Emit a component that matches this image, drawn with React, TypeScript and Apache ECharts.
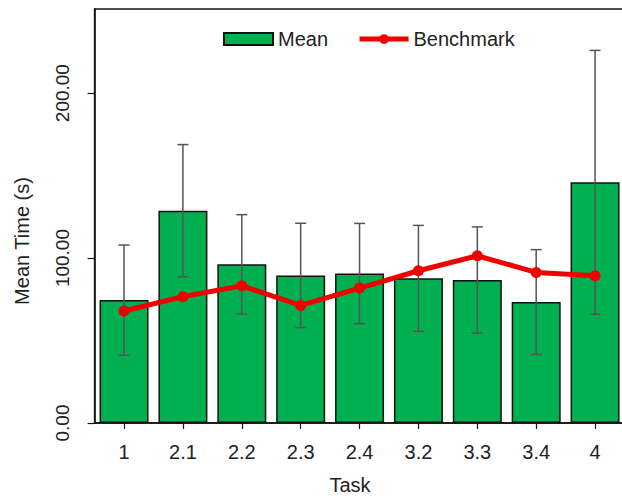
import React, { useEffect, useRef } from "react";
import * as echarts from "echarts";

const categories = ["1", "2.1", "2.2", "2.3", "2.4", "3.2", "3.3", "3.4", "4"];
const meanValues = [74.5, 128.7, 96.2, 89.5, 90.6, 87.7, 86.7, 73.3, 145.9];
const errorValues = [33.4, 40.1, 30.1, 31.6, 30.4, 32.1, 32.2, 31.8, 80.0];
const benchmarkValues = [67.9, 76.6, 83.2, 71.3, 81.8, 92.3, 101.4, 91.3, 89.3];
const yTicks = [0, 100, 200];

const FONT = "'Liberation Sans', Arial, Helvetica, sans-serif";

export default function App() {
  const ref = useRef<HTMLDivElement>(null);

  useEffect(() => {
    if (!ref.current) return;
    const chart = echarts.init(ref.current, undefined, { renderer: "svg" });

    const errorData = categories.map((_, i) => [
      i,
      meanValues[i] - errorValues[i],
      meanValues[i] + errorValues[i],
    ]);

    chart.setOption({
      animation: false,
      backgroundColor: "#ffffff",
      textStyle: { fontFamily: FONT },
      grid: {
        left: 94.6,
        right: -2.5,
        top: 9,
        bottom: 75,
        show: true,
        borderColor: "#111",
        borderWidth: 1.5,
        containLabel: false,
        outerBoundsMode: "none",
      },
      legend: {
        left: 218,
        top: 24,
        itemWidth: 49,
        itemHeight: 12,
        itemGap: 29,
        textStyle: { fontSize: 20, color: "#222", fontFamily: FONT },
        data: [
          { name: "Mean", icon: "rect" },
          { name: "Benchmark", lineStyle: { width: 5, color: "#F00000" } },
        ],
      },
      xAxis: {
        type: "category",
        data: categories,
        axisLine: { show: true, lineStyle: { color: "#111", width: 1.5 } },
        axisTick: { show: true, alignWithLabel: true, length: 6, lineStyle: { color: "#111", width: 1.2 } },
        axisLabel: { fontSize: 20, color: "#222", margin: 19, fontFamily: FONT },
        splitLine: { show: false },
      },
      yAxis: {
        type: "value",
        min: 0,
        max: 251,
        interval: 100,
        axisLine: { show: true, lineStyle: { color: "#111", width: 1.5 } },
        axisTick: {
          show: true,
          length: 7,
          customValues: yTicks,
          lineStyle: { color: "#111", width: 1.2 },
        },
        axisLabel: {
          rotate: 90,
          fontSize: 19,
          color: "#222",
          margin: 23,
          fontFamily: FONT,
          customValues: yTicks,
          formatter: (v: number) => v.toFixed(2),
        },
        splitLine: { show: false },
      },
      graphic: [
        {
          type: "text",
          x: 22,
          y: 241,
          rotation: Math.PI / 2,
          style: {
            text: "Mean Time (s)",
            fontSize: 20,
            fill: "#222",
            fontFamily: FONT,
            align: "center",
            verticalAlign: "middle",
          },
        },
        {
          type: "text",
          x: 350,
          y: 485,
          style: {
            text: "Task",
            fontSize: 20,
            fill: "#222",
            fontFamily: FONT,
            align: "center",
            verticalAlign: "middle",
          },
        },
      ],
      series: [
        {
          name: "Mean",
          type: "bar",
          data: meanValues,
          barWidth: 49,
          z: 2,
          itemStyle: { color: "#00B050", borderColor: "#111", borderWidth: 1.5 },
        },
        {
          name: "Error",
          type: "custom",
          z: 3,
          data: errorData,
          renderItem: (params: any, api: any) => {
            const idx = api.value(0);
            const lo = api.coord([idx, api.value(1)]);
            const hi = api.coord([idx, api.value(2)]);
            const half = 5.5;
            const style = { stroke: "#555", lineWidth: 1.5 };
            return {
              type: "group",
              children: [
                { type: "line", shape: { x1: hi[0], y1: hi[1], x2: lo[0], y2: lo[1] }, style },
                { type: "line", shape: { x1: hi[0] - half, y1: hi[1], x2: hi[0] + half, y2: hi[1] }, style },
                { type: "line", shape: { x1: lo[0] - half, y1: lo[1], x2: lo[0] + half, y2: lo[1] }, style },
              ],
            };
          },
        },
        {
          name: "Benchmark",
          type: "line",
          data: benchmarkValues,
          z: 4,
          symbol: "circle",
          symbolSize: 11,
          lineStyle: { color: "#F00000", width: 5 },
          itemStyle: { color: "#F00000" },
        },
      ],
    });

    return () => chart.dispose();
  }, []);

  return (
    <div
      ref={ref}
      style={{ position: "absolute", left: 0, top: 0, width: 622, height: 498 }}
    />
  );
}
